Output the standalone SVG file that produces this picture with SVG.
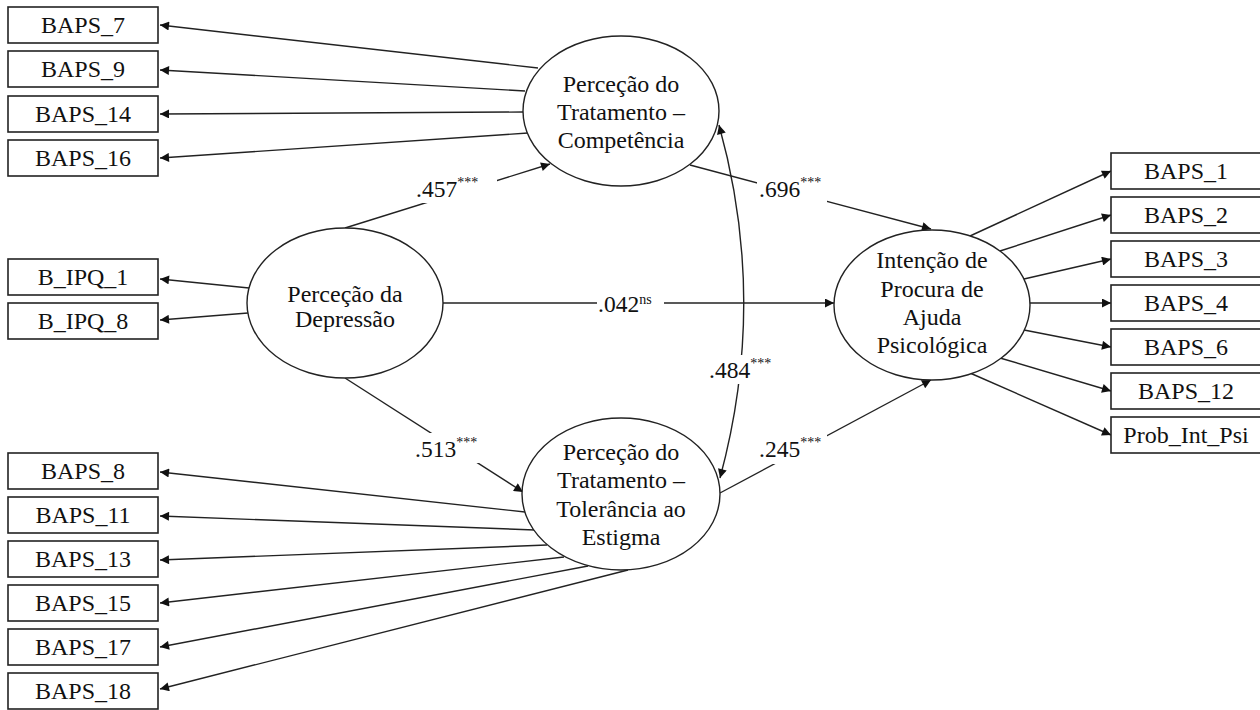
<svg xmlns="http://www.w3.org/2000/svg" width="1260" height="710" viewBox="0 0 1260 710">
<defs>
<marker id="ah" viewBox="0 0 10 10" refX="10" refY="5" markerWidth="11" markerHeight="9" markerUnits="userSpaceOnUse" orient="auto-start-reverse">
<path d="M0,0 L10,5 L0,10 z" fill="#111"/>
</marker>
<style>
.box{fill:#fff;stroke:#222;stroke-width:1.6}
.ell{fill:#fff;stroke:#222;stroke-width:1.4}
.t{font-family:"Liberation Serif","Times New Roman",serif;font-size:24px;fill:#111;text-anchor:middle}
.lb{font-family:"Liberation Serif","Times New Roman",serif;font-size:23.5px;fill:#111}
.sup{font-size:14px}
.c{stroke:#222;stroke-width:1.4;fill:none;marker-end:url(#ah)}
.bg{fill:#fff}
</style>
</defs>
<rect width="1260" height="710" fill="#fff"/>
<g id="connectors">
<line class="c" x1="538" y1="68" x2="160" y2="25"/>
<line class="c" x1="525" y1="91" x2="160" y2="70"/>
<line class="c" x1="523" y1="112" x2="160" y2="114"/>
<line class="c" x1="528" y1="133" x2="160" y2="158"/>
<line class="c" x1="249" y1="288" x2="160" y2="279"/>
<line class="c" x1="248" y1="313" x2="160" y2="320"/>
<line class="c" x1="525" y1="512" x2="160" y2="472"/>
<line class="c" x1="535" y1="530" x2="160" y2="516"/>
<line class="c" x1="547" y1="545" x2="160" y2="560"/>
<line class="c" x1="564" y1="557" x2="160" y2="603"/>
<line class="c" x1="588" y1="566" x2="160" y2="647"/>
<line class="c" x1="628" y1="570" x2="160" y2="689"/>
<line class="c" x1="970" y1="236" x2="1111" y2="171"/>
<line class="c" x1="1000" y1="251" x2="1111" y2="215"/>
<line class="c" x1="1024" y1="279" x2="1111" y2="259"/>
<line class="c" x1="1030" y1="303" x2="1111" y2="303"/>
<line class="c" x1="1024" y1="330" x2="1111" y2="347"/>
<line class="c" x1="1000" y1="358" x2="1111" y2="391"/>
<line class="c" x1="970" y1="373" x2="1111" y2="435"/>
<line class="c" x1="345" y1="228" x2="550" y2="164"/>
<line class="c" x1="345" y1="378" x2="523" y2="492"/>
<line class="c" x1="443" y1="303" x2="834" y2="303"/>
<line class="c" x1="690" y1="165" x2="931" y2="229"/>
<line class="c" x1="720" y1="493" x2="931" y2="380"/>
<path class="c" d="M719,125 Q768,301 720,478" style="marker-start:url(#ah)"/>
</g>
<g id="labels">
<rect class="bg" x="413" y="172" width="84" height="31"/>
<text class="lb" x="416" y="197">.457<tspan class="sup" dy="-10">***</tspan></text>
<rect class="bg" x="757" y="174" width="70" height="29"/>
<text class="lb" x="759" y="197">.696<tspan class="sup" dy="-10">***</tspan></text>
<rect class="bg" x="597" y="290" width="67" height="28"/>
<text class="lb" x="598" y="312">.042<tspan class="sup" dy="-8" font-size="15">ns</tspan></text>
<rect class="bg" x="707" y="355" width="82" height="29"/>
<text class="lb" x="709" y="378">.484<tspan class="sup" dy="-10">***</tspan></text>
<rect class="bg" x="413" y="433" width="79" height="30"/>
<text class="lb" x="415" y="457">.513<tspan class="sup" dy="-10">***</tspan></text>
<rect class="bg" x="757" y="435" width="70" height="29"/>
<text class="lb" x="759" y="457">.245<tspan class="sup" dy="-10">***</tspan></text>
</g>
<g id="comp">
<ellipse class="ell" cx="621" cy="111" rx="98" ry="75"/>
<text class="t" x="621" y="92">Perceção do</text>
<text class="t" x="621" y="120">Tratamento –</text>
<text class="t" x="621" y="148">Competência</text>
</g>
<g id="dep">
<ellipse class="ell" cx="345" cy="303" rx="98" ry="75"/>
<text class="t" x="345" y="302">Perceção da</text>
<text class="t" x="345" y="327">Depressão</text>
</g>
<g id="estig">
<ellipse class="ell" cx="621" cy="494" rx="99" ry="76"/>
<text class="t" x="621" y="460">Perceção do</text>
<text class="t" x="621" y="488">Tratamento –</text>
<text class="t" x="621" y="517">Tolerância ao</text>
<text class="t" x="621" y="545">Estigma</text>
</g>
<g id="intencao">
<ellipse class="ell" cx="932" cy="305" rx="98" ry="75"/>
<text class="t" x="932" y="268">Intenção de</text>
<text class="t" x="932" y="297">Procura de</text>
<text class="t" x="932" y="325">Ajuda</text>
<text class="t" x="932" y="353">Psicológica</text>
</g>
<g id="BAPS_7"><rect class="box" x="8" y="7" width="150" height="36"/><text class="t" x="83" y="33">BAPS_7</text></g>
<g id="BAPS_9"><rect class="box" x="8" y="51" width="150" height="36"/><text class="t" x="83" y="77">BAPS_9</text></g>
<g id="BAPS_14"><rect class="box" x="8" y="96" width="150" height="36"/><text class="t" x="83" y="122">BAPS_14</text></g>
<g id="BAPS_16"><rect class="box" x="8" y="140" width="150" height="36"/><text class="t" x="83" y="166">BAPS_16</text></g>
<g id="B_IPQ_1"><rect class="box" x="8" y="259" width="150" height="36"/><text class="t" x="83" y="285">B_IPQ_1</text></g>
<g id="B_IPQ_8"><rect class="box" x="8" y="303" width="150" height="36"/><text class="t" x="83" y="329">B_IPQ_8</text></g>
<g id="BAPS_8"><rect class="box" x="8" y="453" width="150" height="36"/><text class="t" x="83" y="479">BAPS_8</text></g>
<g id="BAPS_11"><rect class="box" x="8" y="497" width="150" height="36"/><text class="t" x="83" y="523">BAPS_11</text></g>
<g id="BAPS_13"><rect class="box" x="8" y="541" width="150" height="36"/><text class="t" x="83" y="567">BAPS_13</text></g>
<g id="BAPS_15"><rect class="box" x="8" y="585" width="150" height="36"/><text class="t" x="83" y="611">BAPS_15</text></g>
<g id="BAPS_17"><rect class="box" x="8" y="629" width="150" height="36"/><text class="t" x="83" y="655">BAPS_17</text></g>
<g id="BAPS_18"><rect class="box" x="8" y="673" width="150" height="36"/><text class="t" x="83" y="699">BAPS_18</text></g>
<g id="BAPS_1"><rect class="box" x="1111" y="153" width="150" height="36"/><text class="t" x="1186" y="179">BAPS_1</text></g>
<g id="BAPS_2"><rect class="box" x="1111" y="197" width="150" height="36"/><text class="t" x="1186" y="223">BAPS_2</text></g>
<g id="BAPS_3"><rect class="box" x="1111" y="241" width="150" height="36"/><text class="t" x="1186" y="267">BAPS_3</text></g>
<g id="BAPS_4"><rect class="box" x="1111" y="285" width="150" height="36"/><text class="t" x="1186" y="311">BAPS_4</text></g>
<g id="BAPS_6"><rect class="box" x="1111" y="329" width="150" height="36"/><text class="t" x="1186" y="355">BAPS_6</text></g>
<g id="BAPS_12"><rect class="box" x="1111" y="373" width="150" height="36"/><text class="t" x="1186" y="399">BAPS_12</text></g>
<g id="Prob_Int_Psi"><rect class="box" x="1111" y="417" width="150" height="36"/><text class="t" x="1186" y="443">Prob_Int_Psi</text></g>
</svg>
